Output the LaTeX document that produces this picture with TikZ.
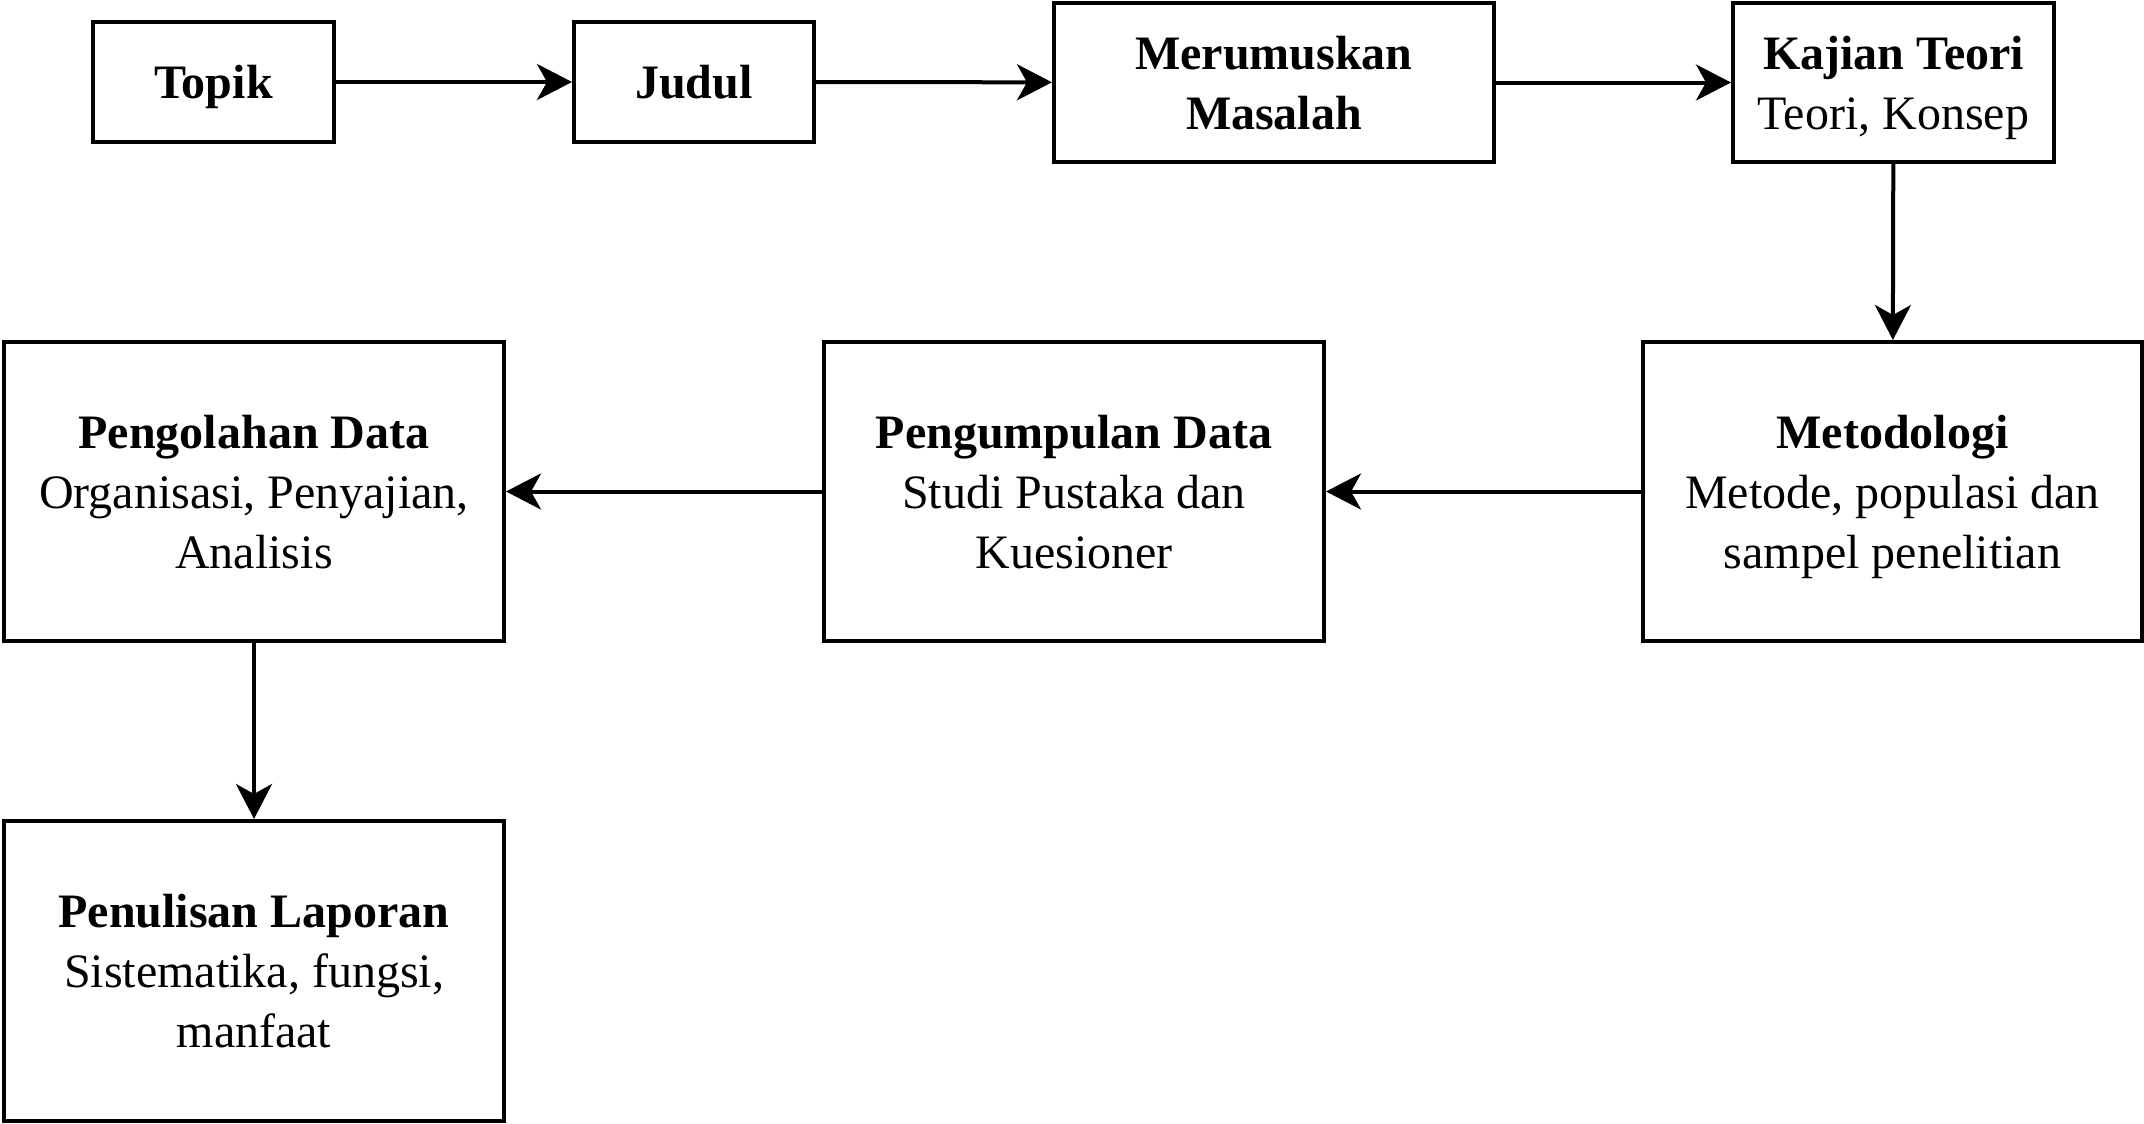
\documentclass[tikz,border=0pt]{standalone}
\usepackage{fontspec}
\setmainfont{Liberation Serif}
\usetikzlibrary{arrows.meta}
\tikzset{
  box/.style={draw=black, line width=2pt, fill=white, inner sep=0pt},
  lbl/.style={align=center, inner sep=0pt, yshift=-2.5pt,
    font=\fontsize{24}{30}\selectfont},
  conn/.style={line width=2pt, -{Stealth[length=17.5pt,width=18pt,inset=5pt]}}
}
\begin{document}
\begin{tikzpicture}[x=0.5pt,y=-0.5pt]
\useasboundingbox (0,0) rectangle (2144,1124);
\node[box, minimum width=120.5pt, minimum height=60pt,
  label={[lbl,name=tTopik]center:{\textbf{Topik}}}] (topik) at (213.5,82) {};
\node[box, minimum width=120pt, minimum height=60pt,
  label={[lbl,name=tJudul]center:{\textbf{Judul}\vphantom{p}}}] (judul) at (694,82) {};
\node[box, minimum width=220pt, minimum height=79.5pt,
  label={[lbl,name=tRumus]center:{\textbf{Merumuskan}\\\textbf{Masalah}\vphantom{p}}}] (rumus) at (1274,82.5) {};
\node[box, minimum width=160.5pt, minimum height=79.5pt,
  label={[lbl,name=tKajian]center:{\textbf{Kajian Teori}\\Teori, Konsep}}] (kajian) at (1893.5,82.5) {};
\node[box, minimum width=249.5pt, minimum height=149.5pt,
  label={[lbl,name=tMetod]center:{\textbf{Metodologi}\\Metode, populasi dan\\sampel penelitian}}] (metod) at (1892.5,491.5) {};
\node[box, minimum width=250pt, minimum height=149.5pt,
  label={[lbl,name=tKumpul]center:{\textbf{Pengumpulan Data}\\Studi Pustaka dan\\Kuesioner\vphantom{p}}}] (kumpul) at (1074,491.5) {};
\node[box, minimum width=250pt, minimum height=149.5pt,
  label={[lbl,name=tOlah]center:{\textbf{Pengolahan Data}\\Organisasi, Penyajian,\\Analisis\vphantom{p}}}] (olah) at (254,491.5) {};
\node[box, minimum width=250pt, minimum height=150pt,
  label={[lbl,name=tTulis]center:{\textbf{Penulisan Laporan}\\Sistematika, fungsi,\\manfaat\vphantom{p}}}] (tulis) at (254,971) {};
\draw[conn] (topik) -- (judul);
\draw[conn] (judul) -- (rumus);
\draw[conn] (rumus) -- (kajian);
\draw[conn] (kajian) -- (metod);
\draw[conn] (metod) -- (kumpul);
\draw[conn] (kumpul) -- (olah);
\draw[conn] (olah) -- (tulis);
\end{tikzpicture}
\end{document}
